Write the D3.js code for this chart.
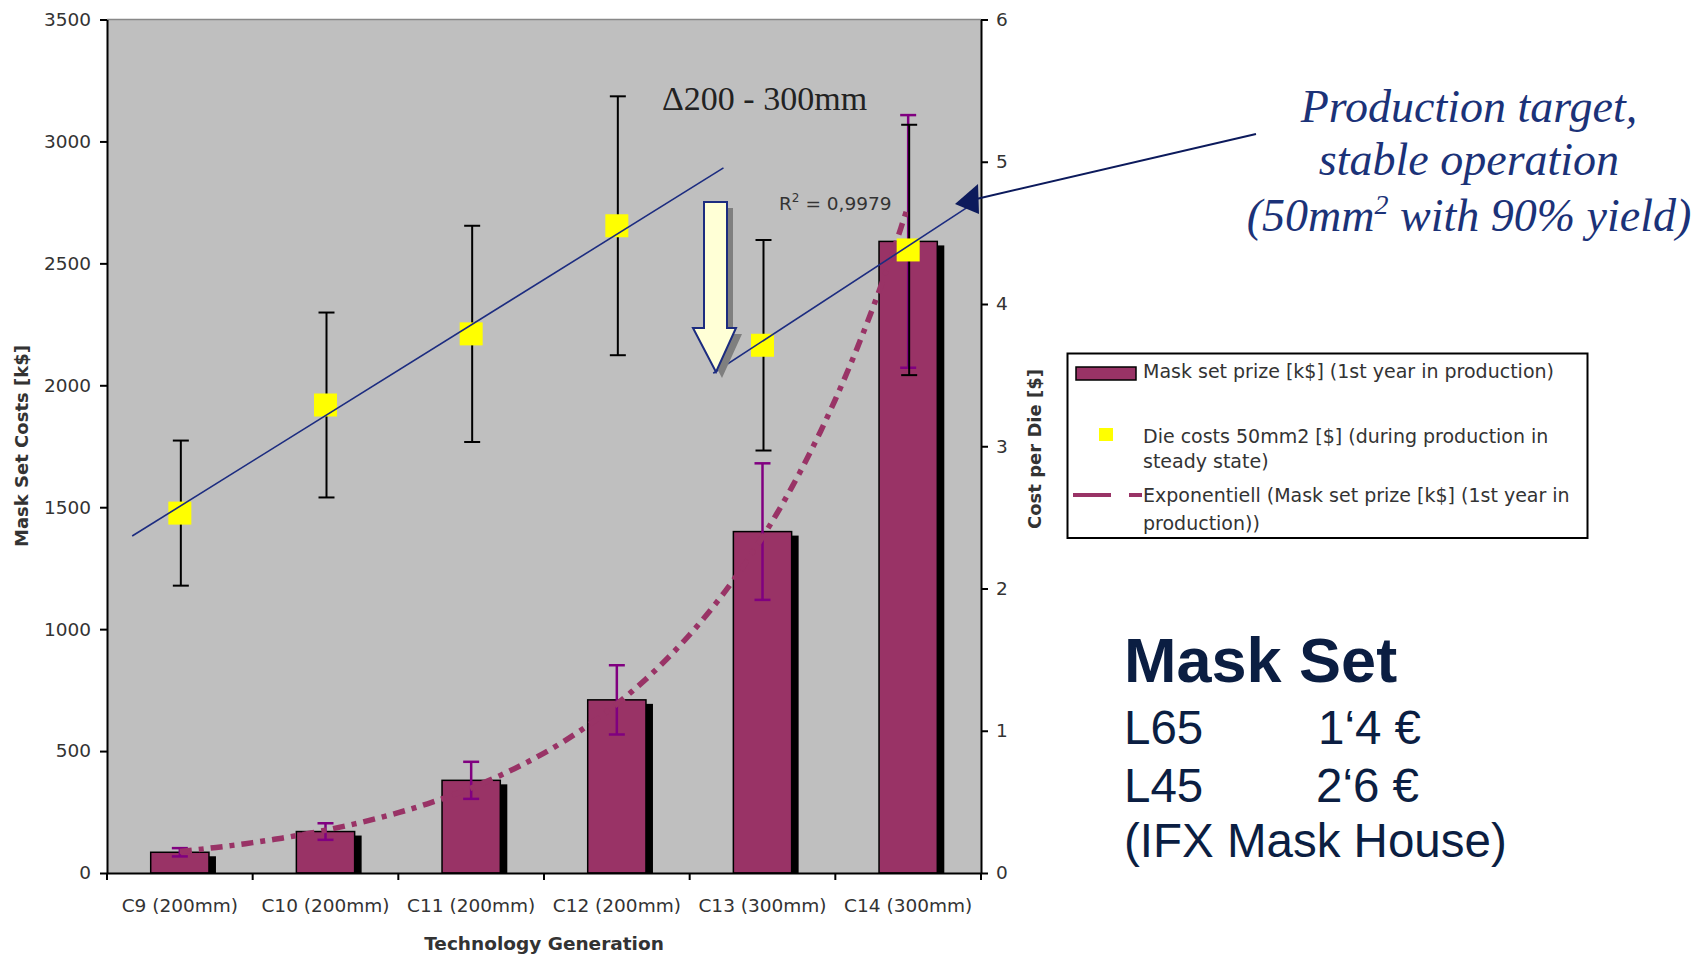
<!DOCTYPE html>
<html>
<head>
<meta charset="utf-8">
<script src="https://cdn.jsdelivr.net/npm/d3@7"></script>
<style>
  html, body { margin: 0; padding: 0; background: #fff; }
  svg { display: block; }
</style>
</head>
<body>
<svg id="chart" width="1698" height="956"></svg>
<script>
// ---------------- data ----------------
const categories = ["C9 (200mm)", "C10 (200mm)", "C11 (200mm)", "C12 (200mm)", "C13 (300mm)", "C14 (300mm)"];
const maskSetPrize = [85, 170, 380, 710, 1400, 2590];          // k$ (left axis)
const maskSetErr   = [17, 34, 76, 142, 280, 518];               // k$
const dieCost      = [2.53, 3.29, 3.79, 4.55, 3.71, 4.38];      // $ (right axis)
const dieCostErr   = [0.51, 0.65, 0.76, 0.91, 0.74, 0.88];      // $
const leftTicks    = [0, 500, 1000, 1500, 2000, 2500, 3000, 3500];
const rightTicks   = [0, 1, 2, 3, 4, 5, 6];
// linear trend segments: [category index, $ value]
const trend200 = [[-0.327, 2.369], [3.732, 4.957]];
const trend300 = [[3.662, 3.513], [5.424, 4.691]];
const legendLabels = [
  ["Mask set prize [k$] (1st year in production)"],
  ["Die costs 50mm2 [$] (during production in", "steady state)"],
  ["Exponentiell (Mask set prize [k$] (1st year in", "production))"]
];

// ---------------- layout ----------------
const SANS = '"DejaVu Sans", "Liberation Sans", Arial, sans-serif';
const ARIAL = '"Liberation Sans", Arial, sans-serif';
const SERIF = '"Liberation Serif", "Times New Roman", serif';
const svg = d3.select("#chart");
const X0 = 107, X1 = 981, YT = 19.5, YB = 873;
const BAR = "#993366", PURPLE = "#800080", NAVY = "#1c2c80", TXT = "#333";

const x = d3.scaleBand().domain(categories).range([X0, X1]).padding(0);
const bw = x.bandwidth();
const xi = i => X0 + bw * (i + 0.5);
const yL = d3.scaleLinear().domain([0, 3500]).range([YB, YT]);
const yR = d3.scaleLinear().domain([0, 6]).range([YB, YT]);

// plot background
svg.append("rect").attr("x", X0).attr("y", YT).attr("width", X1 - X0).attr("height", YB - YT).attr("fill", "#bfbfbf");
svg.append("line").attr("x1", X0).attr("x2", X1).attr("y1", YT).attr("y2", YT).attr("stroke", "#888").attr("stroke-width", 1.5);

// bars with shadow
const barW = bw * 0.4;
const gb = svg.append("g");
categories.forEach((c, i) => {
  const cx = x(c) + bw / 2;
  const top = yL(maskSetPrize[i]);
  gb.append("rect").attr("x", cx - barW / 2 + 7).attr("y", top + 4).attr("width", barW).attr("height", YB - top - 4).attr("fill", "#000");
  gb.append("rect").attr("x", cx - barW / 2).attr("y", top).attr("width", barW).attr("height", YB - top)
    .attr("fill", BAR).attr("stroke", "#000").attr("stroke-width", 1.5);
});

// purple error bars on mask set prize
const ge = svg.append("g").attr("stroke", PURPLE).attr("stroke-width", 2.5);
categories.forEach((c, i) => {
  const cx = x(c) + bw / 2;
  const hi = yL(maskSetPrize[i] + maskSetErr[i]), lo = yL(maskSetPrize[i] - maskSetErr[i]);
  ge.append("line").attr("x1", cx).attr("x2", cx).attr("y1", hi).attr("y2", lo);
  ge.append("line").attr("x1", cx - 8).attr("x2", cx + 8).attr("y1", hi).attr("y2", hi);
  ge.append("line").attr("x1", cx - 8).attr("x2", cx + 8).attr("y1", lo).attr("y2", lo);
});

// exponential fit of mask set prize
const n = maskSetPrize.length;
const lnV = maskSetPrize.map(Math.log);
const mI = d3.mean(d3.range(n)), mL = d3.mean(lnV);
const b = d3.sum(d3.range(n), i => (i - mI) * (lnV[i] - mL)) / d3.sum(d3.range(n), i => (i - mI) ** 2);
const a = mL - b * mI;
const expPts = d3.range(0, n - 1 + 1e-9, 0.05).map(t => [xi(t), yL(Math.exp(a + b * t))]);
svg.append("path").attr("d", d3.line()(expPts)).attr("fill", "none").attr("stroke", BAR)
  .attr("stroke-width", 5.5).attr("stroke-dasharray", "12,7,5,7");

// black error bars on die cost
const gk = svg.append("g").attr("stroke", "#000").attr("stroke-width", 2);
categories.forEach((c, i) => {
  const cx = x(c) + bw / 2;
  const hi = yR(dieCost[i] + dieCostErr[i]), lo = yR(dieCost[i] - dieCostErr[i]);
  gk.append("line").attr("x1", cx + 1).attr("x2", cx + 1).attr("y1", hi).attr("y2", lo);
  gk.append("line").attr("x1", cx - 7).attr("x2", cx + 9).attr("y1", hi).attr("y2", hi);
  gk.append("line").attr("x1", cx - 7).attr("x2", cx + 9).attr("y1", lo).attr("y2", lo);
});

// yellow squares
const sq = 23;
svg.append("g").selectAll("rect").data(dieCost).join("rect")
  .attr("x", (d, i) => x(categories[i]) + bw / 2 - sq / 2)
  .attr("y", d => yR(d) - sq / 2)
  .attr("width", sq).attr("height", sq).attr("fill", "#ffff00");

// linear trend lines
[trend200, trend300].forEach(t => {
  svg.append("path").attr("d", d3.line()(t.map(p => [xi(p[0]), yR(p[1])])))
    .attr("fill", "none").attr("stroke", NAVY).attr("stroke-width", 1.6);
});

// axes
const fmt = d3.format("d");
const axL = svg.append("g").attr("transform", `translate(${X0},0)`)
  .call(d3.axisLeft(yL).tickValues(leftTicks).tickFormat(fmt).tickSize(7).tickSizeOuter(0).tickPadding(9));
const axR = svg.append("g").attr("transform", `translate(${X1},0)`)
  .call(d3.axisRight(yR).tickValues(rightTicks).tickFormat(fmt).tickSize(7).tickSizeOuter(0).tickPadding(8));
const axB = svg.append("g").attr("transform", `translate(0,${YB})`)
  .call(d3.axisBottom(x).tickSize(0).tickSizeOuter(0).tickPadding(26));
[axL, axR, axB].forEach(g => {
  g.attr("font-family", null).attr("font-size", null);
  g.select(".domain").attr("stroke", "#000").attr("stroke-width", 2);
  g.selectAll(".tick line").attr("stroke", "#000").attr("stroke-width", 2);
  g.selectAll("text").attr("fill", TXT).style("font-size", "18.5px").style("font-family", SANS);
});
// category boundary ticks
svg.append("g").selectAll("line").data(categories.map(c => x(c)).concat([X1])).join("line")
  .attr("x1", d => d).attr("x2", d => d).attr("y1", YB).attr("y2", YB + 7)
  .attr("stroke", "#000").attr("stroke-width", 2);

// axis titles
svg.append("text").attr("x", (X0 + X1) / 2).attr("y", 950).attr("text-anchor", "middle")
  .style("font-family", SANS).style("font-size", "18.5px").attr("font-weight", "bold").attr("fill", TXT).text("Technology Generation");
svg.append("text").attr("transform", `translate(28,446) rotate(-90)`).attr("text-anchor", "middle")
  .style("font-family", SANS).style("font-size", "18px").attr("font-weight", "bold").attr("fill", TXT).text("Mask Set Costs [k$]");
svg.append("text").attr("transform", `translate(1041,449) rotate(-90)`).attr("text-anchor", "middle")
  .style("font-family", SANS).style("font-size", "18px").attr("font-weight", "bold").attr("fill", TXT).text("Cost per Die [$]");

// annotations inside plot
svg.append("text").attr("x", 662).attr("y", 110).style("font-family", SERIF)
  .style("font-size", "34px").attr("fill", "#222").text("\u0394200 - 300mm");
const r2 = svg.append("text").attr("x", 779).attr("y", 210).style("font-family", SANS).style("font-size", "18.5px").attr("fill", TXT);
r2.append("tspan").text("R");
r2.append("tspan").style("font-size", "12px").attr("dy", -8).text("2");
r2.append("tspan").attr("dy", 8).text(" = 0,9979");

// big down arrow with shadow
const arrowPts = [[704, 202], [727, 202], [727, 328], [736, 328], [716, 372], [693, 328], [704, 328]];
svg.append("path").attr("d", d3.line()(arrowPts.map(p => [p[0] + 6, p[1] + 6])) + "Z").attr("fill", "#7f7f7f");
svg.append("path").attr("d", d3.line()(arrowPts) + "Z").attr("fill", "#ffffd6").attr("stroke", NAVY).attr("stroke-width", 2);

// callout arrow to the target
const DARK = "#0c1a5c";
svg.append("line").attr("x1", 1256).attr("y1", 134).attr("x2", 972).attr("y2", 200).attr("stroke", DARK).attr("stroke-width", 2);
svg.append("path").attr("d", "M955,204 L978,184 L979,214 Z").attr("fill", DARK);

// legend
svg.append("rect").attr("x", 1067.5).attr("y", 353.5).attr("width", 520).attr("height", 184.5)
  .attr("fill", "#fff").attr("stroke", "#000").attr("stroke-width", 2);
svg.append("rect").attr("x", 1076).attr("y", 367).attr("width", 60).attr("height", 13)
  .attr("fill", BAR).attr("stroke", "#000").attr("stroke-width", 1.5);
svg.append("rect").attr("x", 1099).attr("y", 428).attr("width", 14).attr("height", 13).attr("fill", "#ffff00");
svg.append("line").attr("x1", 1073).attr("x2", 1111).attr("y1", 495).attr("y2", 495).attr("stroke", BAR).attr("stroke-width", 4);
svg.append("line").attr("x1", 1129).attr("x2", 1142).attr("y1", 495).attr("y2", 495).attr("stroke", BAR).attr("stroke-width", 4);
const legY = [[371.5], [436.5, 461.5], [495, 523]];
legendLabels.forEach((lines, k) => {
  lines.forEach((s, j) => {
    svg.append("text").attr("x", 1143).attr("y", legY[k][j]).attr("dy", "0.35em")
      .style("font-family", SANS).style("font-size", "19px").attr("fill", TXT).text(s);
  });
});

// production target callout text
const ptg = svg.append("g").attr("fill", "#1b3278").attr("text-anchor", "middle");
const ptStyle = t => t.style("font-family", SERIF).style("font-style", "italic").style("font-size", "46px");
ptStyle(ptg.append("text").attr("x", 1469).attr("y", 122)).text("Production target,");
ptStyle(ptg.append("text").attr("x", 1469).attr("y", 175)).text("stable operation");
const l3 = ptStyle(ptg.append("text").attr("x", 1469).attr("y", 231));
l3.append("tspan").text("(50mm");
l3.append("tspan").style("font-size", "28px").attr("dy", -17).text("2");
l3.append("tspan").attr("dy", 17).text(" with 90% yield)");

// Mask Set note
const NOTE = "#0b1e42";
const ng = svg.append("g").attr("fill", NOTE);
const note = (xx, yy, size, s, bold) => ng.append("text").attr("x", xx).attr("y", yy)
  .style("font-family", ARIAL).style("font-size", size + "px").attr("font-weight", bold ? "bold" : "normal").text(s);
note(1124, 682, 63, "Mask Set", true);
note(1124, 744, 47.5, "L65");
note(1318, 744, 47.5, "1\u20184 \u20ac");
note(1124, 802, 47.5, "L45");
note(1316, 802, 47.5, "2\u20186 \u20ac");
note(1124, 857, 47.5, "(IFX Mask House)");
</script>
</body>
</html>
